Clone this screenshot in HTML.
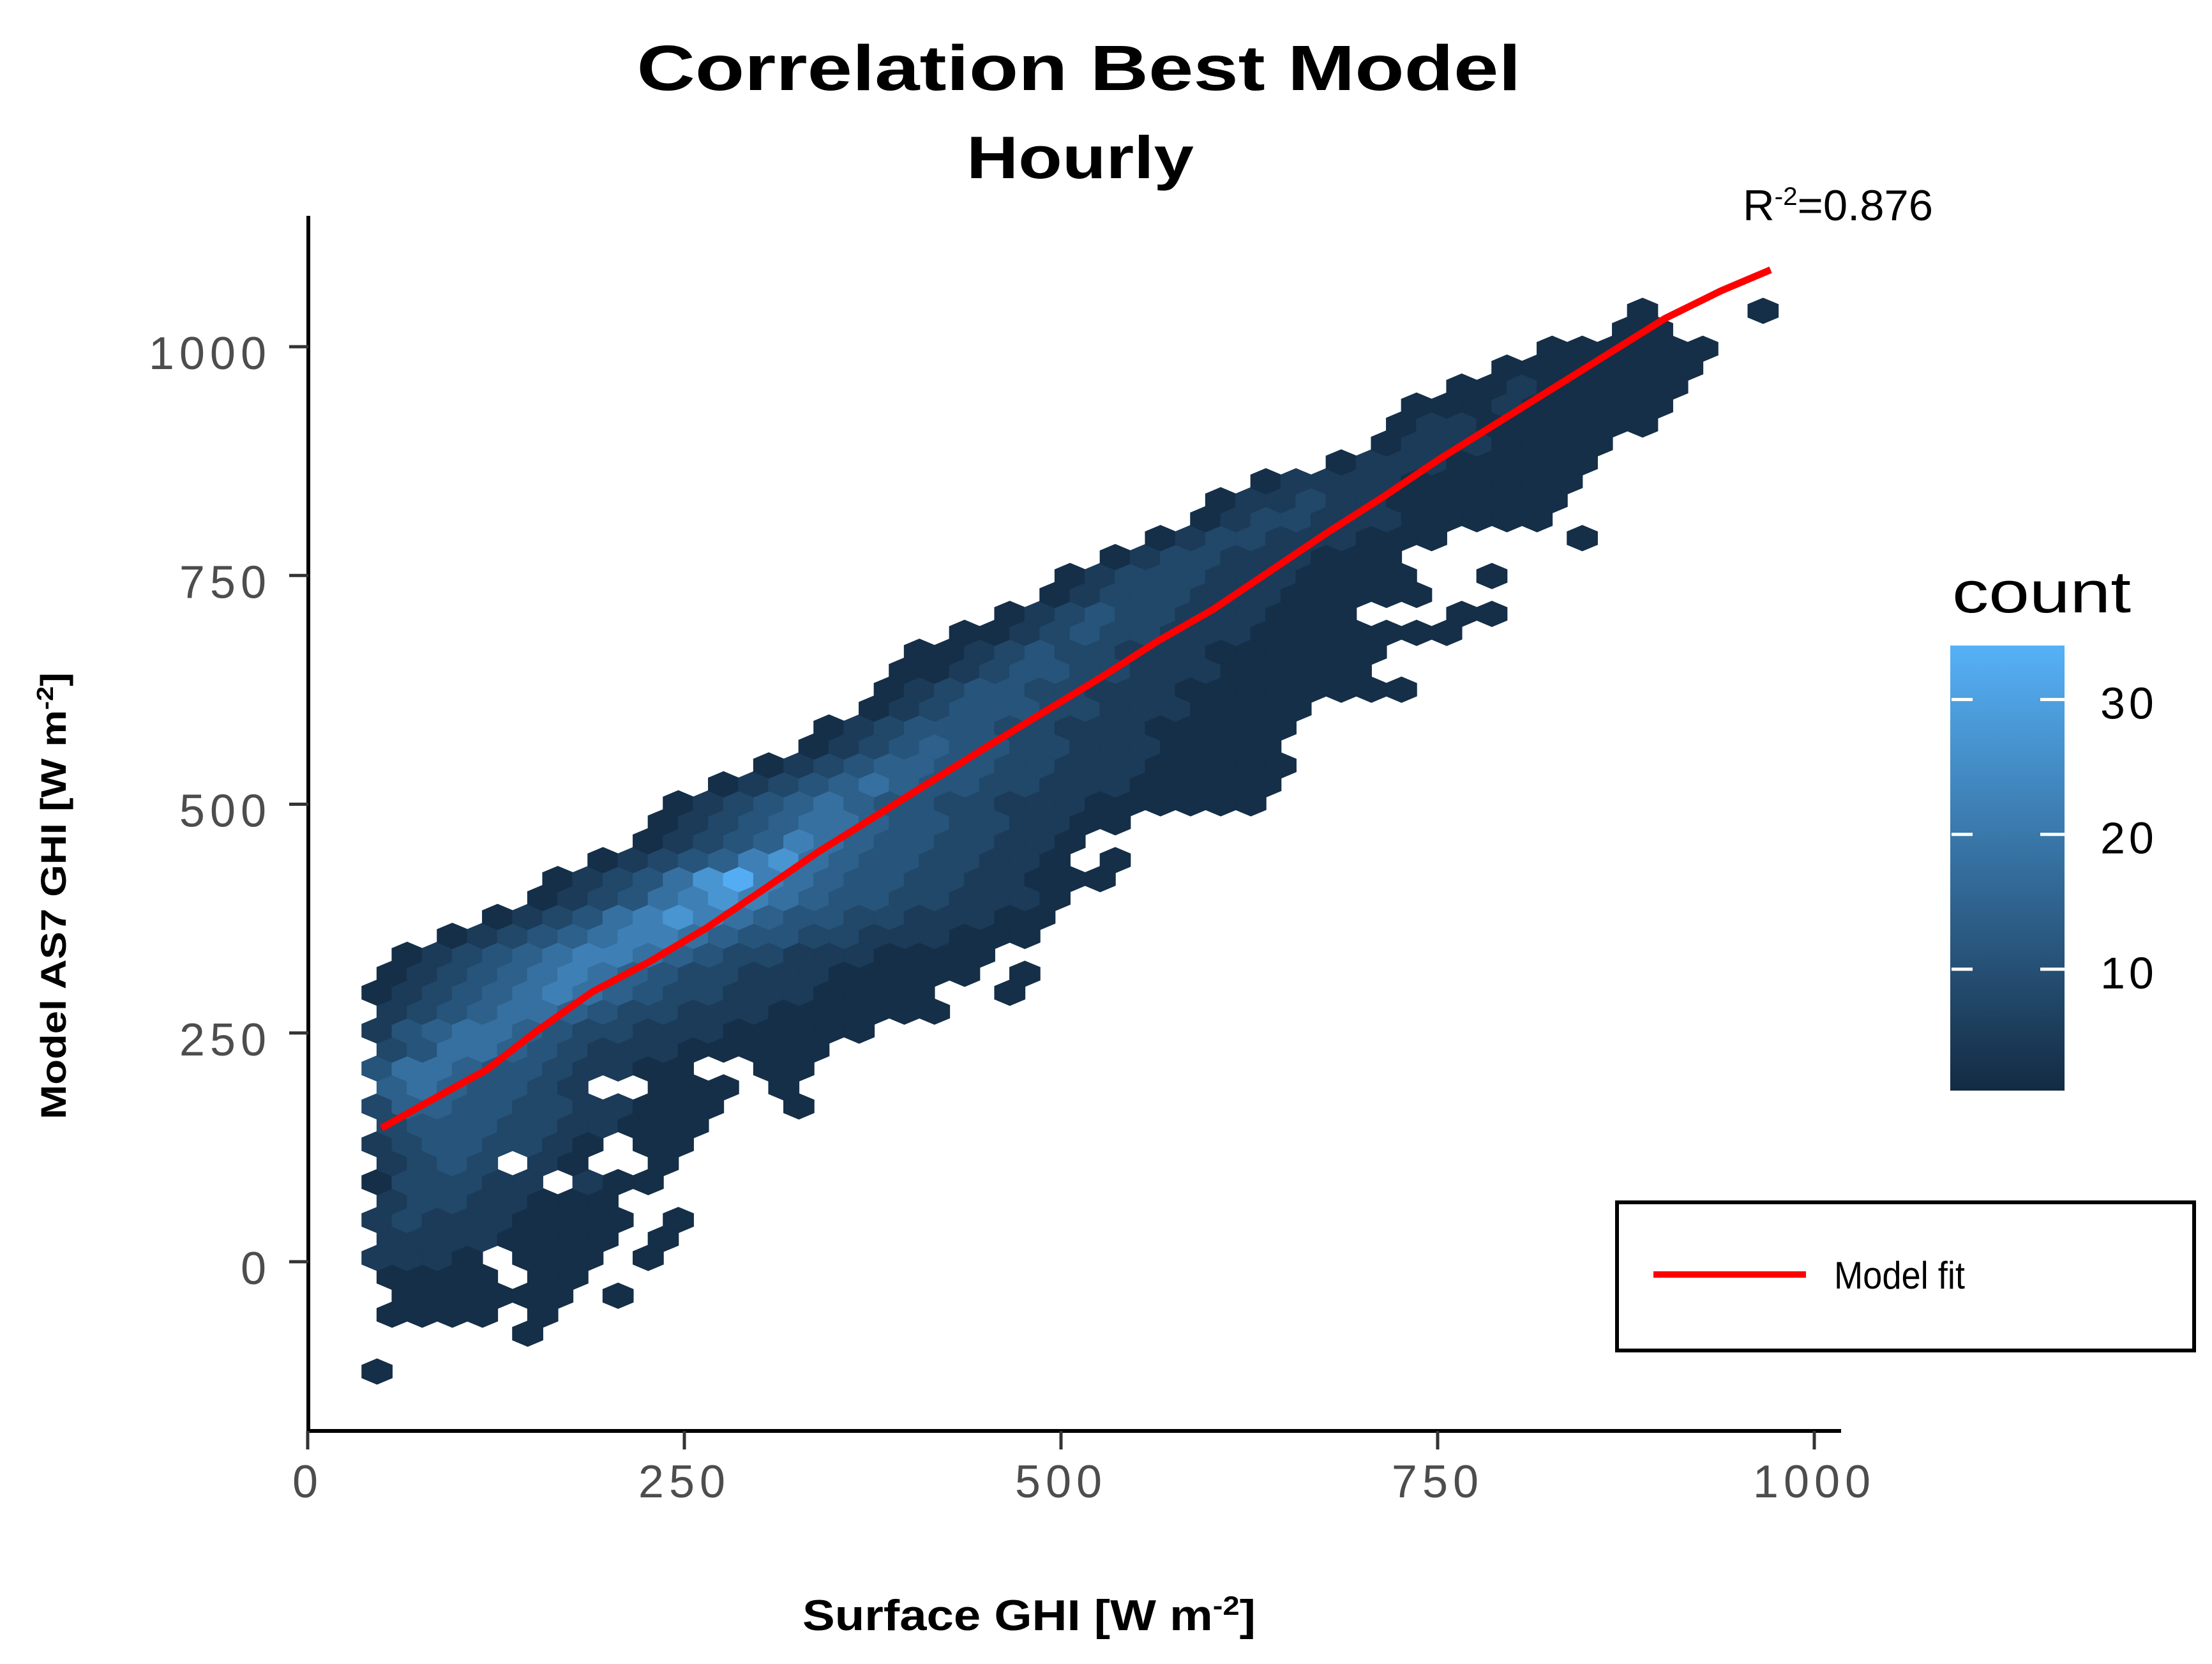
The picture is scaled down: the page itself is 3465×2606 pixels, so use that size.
<!DOCTYPE html>
<html><head><meta charset="utf-8"><style>
html,body{margin:0;padding:0;background:#fff;}
svg{display:block;}
text{font-family:"Liberation Sans",sans-serif;}
</style></head><body>
<svg id="chart" xmlns="http://www.w3.org/2000/svg" width="3465" height="2606" viewBox="0 0 3465 2606">
<rect x="0" y="0" width="3465" height="2606" fill="#fff"/>
<text x="1690" y="141" text-anchor="middle" font-size="100" font-weight="bold" textLength="1385" lengthAdjust="spacingAndGlyphs">Correlation Best Model</text>
<text x="1692" y="279" text-anchor="middle" font-size="94" font-weight="bold" textLength="356" lengthAdjust="spacingAndGlyphs">Hourly</text>
<text x="2730" y="345" font-family="Liberation Serif, serif" font-size="68" textLength="298" lengthAdjust="spacingAndGlyphs">R<tspan font-size="40" dy="-24">-2</tspan><tspan dy="24">=0.876</tspan></text>
<g id="hexes"></g>
<g id="fit"></g>
<g id="axes"></g>
<text transform="translate(103,1403) rotate(-90)" text-anchor="middle" font-size="56" font-weight="bold" textLength="700" lengthAdjust="spacingAndGlyphs">Model AS7 GHI [W m<tspan font-size="36" dy="-20">-2</tspan><tspan dy="20">]</tspan></text>
<text x="1612" y="2553" text-anchor="middle" font-family="Liberation Serif, serif" font-size="68" font-weight="bold" textLength="710" lengthAdjust="spacingAndGlyphs">Surface GHI [W m<tspan font-size="42" dy="-24">-2</tspan><tspan dy="24">]</tspan></text>
<g id="legend">
<text x="3058" y="959" font-size="92" textLength="280" lengthAdjust="spacingAndGlyphs">count</text>
<defs><linearGradient id="grad" x1="0" y1="1" x2="0" y2="0"><stop offset="0" stop-color="#132B43"/><stop offset="1" stop-color="#56B1F7"/></linearGradient></defs>
<rect id="cbar" x="3055" y="1011" width="179" height="697" fill="url(#grad)"/>
<g id="cticks"></g>
</g>
<g>
<rect x="2533" y="1883" width="904" height="232" fill="#fff" stroke="#000" stroke-width="6"/>
<line x1="2590" y1="1996" x2="2829" y2="1996" stroke="#ff0000" stroke-width="10"/>
<text x="2873" y="2018" font-size="60" textLength="205" lengthAdjust="spacingAndGlyphs">Model fit</text>
</g>
</svg>
<script>
// ---- data ----
const xTicks = [0, 250, 500, 750, 1000];
const yTicks = [0, 250, 500, 750, 1000];
const colorTicks = [10, 20, 30];
const hexWidth = 20;      // data units (x)
const hexRowStep = 20.7;  // data units (y)
const gridX0 = 46;
const gridY0 = -120;
// count represented by each level digit in the row strings
const levelCounts = [0, 2, 5, 8, 11, 14, 18, 22, 27, 33];
// each row: [startColumn, level string] ('.' = empty bin)
const hexRows = [
 [0,"1"],[0,""],[5,"1"],[0,"1111.1"],[1,"111111.1"],[0,"1111.11"],
 [0,"2221.111.1"],[0,"22221111.1"],[0,"232221111.1"],[0,"23322111"],
 [0,"133322.211"],[0,"2343.21..1"],[0,"23443321.11"],[0,"34443322111"],
 [0,"355443322111..1"],[0,"5654432..111.1"],[0,"46654432211..11"],
 [0,"346654322211111"],[0,"24566543322211111"],[0,"2345665433222111111"],
 [0,"1234567654332221111..1"],[0,"12345676543322211111.1"],
 [1,"12345677654332221111"],[2,"12345677654433222111"],
 [4,"1234678765443322211"],[5,"123467876544332221"],
 [6,"1234689765443322111"],[7,"1234578654433221.1"],
 [9,"123457654433221"],[9,"1234566544332211"],
 [10,"12345654433222111111"],[11,"1234565443322211111"],
 [13,"123455443322211111"],[14,"1234544332221111"],
 [15,"1234443322211111"],[16,"123444332221111"],
 [17,"123443322211111111"],[17,"1123443322211111"],
 [18,"1123433222111111"],[19,"11234332221111111"],
 [21,"123433222111...11"],[22,"1233322211111"],
 [23,"123332221111..1"],[24,"1233222111"],
 [26,"1233222111....1"],[27,"123322211111"],
 [28,"122322111111"],[29,"12222111111"],
 [32,"122211111"],[33,"12221111"],[34,"122111111"],[34,"111211111"],
 [36,"11211111"],[37,"1111111"],[39,"111111"],[41,"11"],[42,"1...1"]
];
const fitX = [49,77,119,152,189,227,264,301,339,376,414,451,489,526,564,601,639,676,714,751,788,826,863,901,938,971];
const fitY = [146,172,210,252,295,328,364,405,448,486,525,563,601,638,678,713,755,796,836,877,915,954,992,1031,1061,1084];

// ---- scales ----
const NS = "http://www.w3.org/2000/svg";
const X = v => 482 + 2.36 * v;
const Y = v => 1976 - 1.433 * v;
const cMin = 1, cMax = 34;
const C = v => 1708 - (v - cMin) / (cMax - cMin) * 697;
function color(c) {
  const t = Math.max(0, Math.min(1, (c - cMin) / (cMax - cMin)));
  const a = [0x13, 0x2B, 0x43], b = [0x56, 0xB1, 0xF7];
  return "rgb(" + a.map((v, i) => Math.round(v + (b[i] - v) * t)).join(",") + ")";
}
function mk(tag, attrs, parent) {
  const e = document.createElementNS(NS, tag);
  for (const k in attrs) e.setAttribute(k, attrs[k]);
  parent.appendChild(e);
  return e;
}

// ---- hexes ----
const hg = document.getElementById("hexes");
const hw = hexWidth * 2.36 / 2;
const hh = hexRowStep * 1.433 / 0.75 / 2;
hexRows.forEach((row, r) => {
  const yv = gridY0 + r * hexRowStep;
  const off = (r % 2) ? hexWidth / 2 : 0;
  const s = row[1];
  for (let i = 0; i < s.length; i++) {
    if (s[i] === ".") continue;
    const c = row[0] + i;
    const xv = gridX0 + off + c * hexWidth;
    const cnt = levelCounts[+s[i]];
    const cx = X(xv), cy = Y(yv);
    const pts = [[cx, cy - hh], [cx + hw, cy - hh / 2], [cx + hw, cy + hh / 2], [cx, cy + hh], [cx - hw, cy + hh / 2], [cx - hw, cy - hh / 2]]
      .map(p => p[0].toFixed(1) + "," + p[1].toFixed(1)).join(" ");
    const col = color(cnt);
    const p = mk("polygon", { points: pts, fill: col, stroke: col, "stroke-width": 1.5 }, hg);
    
    
  }
});

// ---- fit line ----
const fg = document.getElementById("fit");
const fl = mk("polyline", { points: fitX.map((x, i) => X(x).toFixed(1) + "," + Y(fitY[i]).toFixed(1)).join(" "), fill: "none", stroke: "#ff0000", "stroke-width": 11, "stroke-linejoin": "round" }, fg);



// ---- axes ----
const ag = document.getElementById("axes");
const yl = mk("line", { x1: 483, y1: 338, x2: 483, y2: 2244, stroke: "#000", "stroke-width": 6 }, ag);


const xl = mk("line", { x1: 480, y1: 2241, x2: 2884, y2: 2241, stroke: "#000", "stroke-width": 6 }, ag);


yTicks.forEach(v => {
  const t = mk("line", { x1: 453, y1: Y(v), x2: 483, y2: Y(v), stroke: "#333", "stroke-width": 5 }, ag);
  
  
  const tx = mk("text", { x: 425, y: Y(v) + 35, "text-anchor": "end", "font-size": 72, fill: "#4D4D4D", "letter-spacing": 8 }, ag);
  tx.textContent = String(v);
  
  
});
xTicks.forEach(v => {
  const t = mk("line", { x1: X(v), y1: 2241, x2: X(v), y2: 2270, stroke: "#333", "stroke-width": 5 }, ag);
  
  
  const tx = mk("text", { x: X(v), y: 2345, "text-anchor": "middle", "font-size": 72, fill: "#4D4D4D", "letter-spacing": 8 }, ag);
  tx.textContent = String(v);
  
  
});

// ---- colorbar ticks ----
const cg = document.getElementById("cticks");
colorTicks.forEach(v => {
  const a = mk("line", { x1: 3057, y1: C(v), x2: 3090, y2: C(v), stroke: "#fff", "stroke-width": 5 }, cg);
  
  
  const b = mk("line", { x1: 3196, y1: C(v), x2: 3234, y2: C(v), stroke: "#fff", "stroke-width": 5 }, cg);
  
  
  const t = mk("text", { x: 3290, y: C(v) + 30, "font-size": 70, "letter-spacing": 6 }, cg);
  t.textContent = String(v);
  
  
});
</script>
</body></html>
